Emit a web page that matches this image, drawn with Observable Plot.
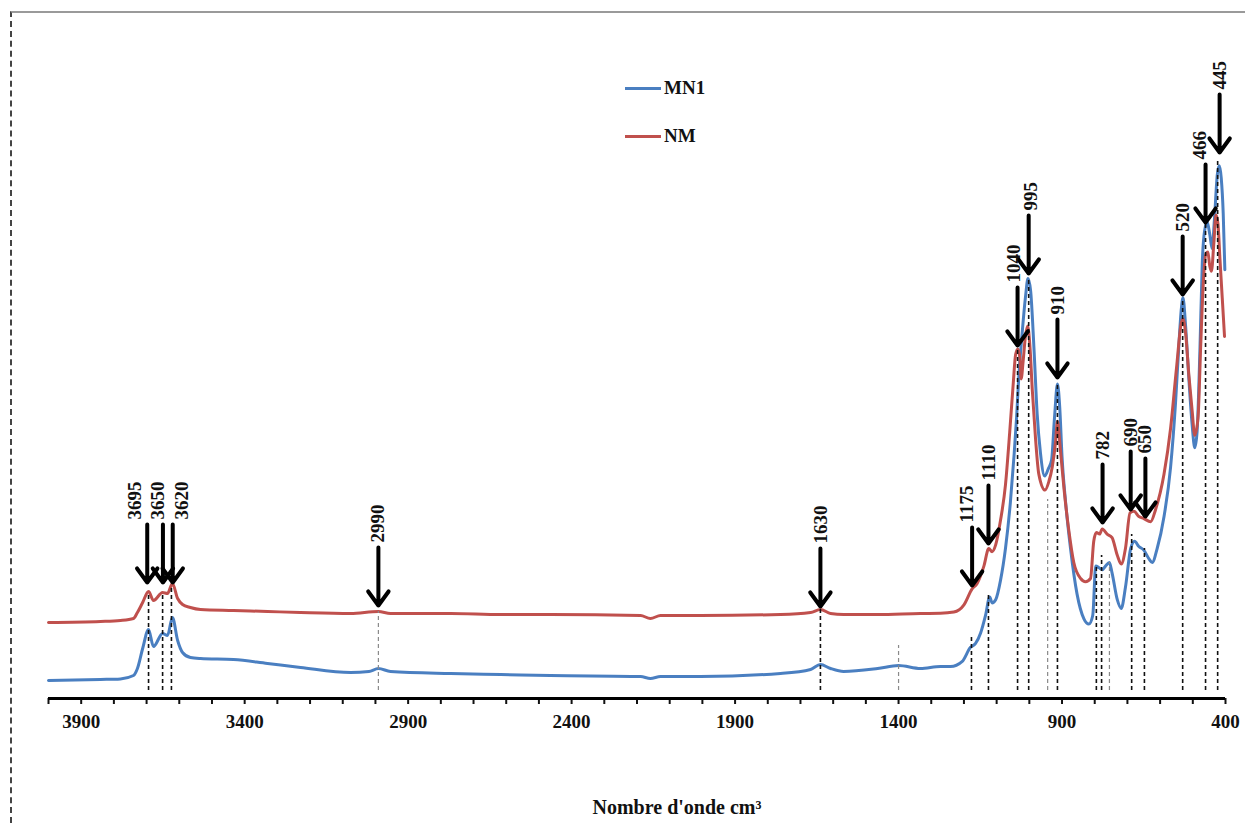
<!DOCTYPE html>
<html>
<head>
<meta charset="utf-8">
<script src="https://cdn.jsdelivr.net/npm/d3@7"></script>
<script src="https://cdn.jsdelivr.net/npm/@observablehq/plot@0.6"></script>
<style>
  html, body { margin: 0; padding: 0; background: #fff; }
  #wrap { position: relative; width: 1245px; height: 823px; overflow: hidden; }
  #frame { position: absolute; left: 10px; top: 11px; width: 1240px; height: 820px;
           border-top: 2px solid #9a9a9a; border-left: 2px dashed #444; }
  #chart { position: absolute; left: 0; top: 0; }
  .leg { position: absolute; left: 625px; font: bold 19px "Liberation Serif", "Times New Roman", serif;
         color: #111; display: flex; align-items: center; }
  .leg span.sw { display: inline-block; width: 36px; height: 3px; margin-right: 3px; }
</style>
</head>
<body>
<div id="wrap">
  <div id="frame"></div>
  <div id="chart"></div>
  <div class="leg" style="top:77px"><span class="sw" style="background:#4a7fc1"></span>MN1</div>
  <div class="leg" style="top:125px"><span class="sw" style="background:#c0504d"></span>NM</div>
</div>
<script>
// ---- Data (wavenumber cm-1, absorbance a.u.) ----
const seriesNames = ["MN1", "NM"];

const mn1Wn  = [4000,3841,3780,3740,3728,3712,3694,3679,3651,3636,3621,3605,3590,3566,3535,3434,3330,3229,3076,3020,2991,2954,2770,2617,2465,2189,2159,2128,2006,1761,1669,1639,1608,1568,1464,1400,1333,1272,1241,1205,1180,1165,1149,1134,1121,1114,1103,1088,1073,1058,1047,1039,1032,1022,1012,1004,996,986,976,966,953,942,932,923,914,907,900,889,874,854,833,818,806,797,787,777,767,755,747,731,719,706,690,678,665,650,634,624,609,588,568,553,543,535,530,522,512,502,494,487,478,471,464,456,448,441,434,425,419,413,407,402];
const mn1Abs = [0.045,0.0475,0.049,0.0575,0.075,0.125,0.1725,0.13,0.1625,0.1575,0.2025,0.145,0.115,0.1025,0.10,0.0975,0.0875,0.0775,0.065,0.0675,0.075,0.0675,0.0625,0.06,0.0575,0.055,0.05,0.055,0.055,0.0625,0.0725,0.085,0.075,0.0675,0.075,0.0825,0.075,0.08,0.08,0.093,0.128,0.137,0.164,0.208,0.254,0.239,0.247,0.296,0.375,0.49,0.605,0.702,0.808,0.913,1.002,1.05,1.019,0.878,0.711,0.614,0.556,0.574,0.596,0.702,0.786,0.728,0.605,0.49,0.375,0.261,0.199,0.186,0.208,0.331,0.327,0.322,0.331,0.34,0.314,0.247,0.225,0.278,0.375,0.393,0.38,0.371,0.349,0.34,0.375,0.455,0.578,0.737,0.878,0.975,1.002,0.931,0.799,0.684,0.627,0.666,0.878,1.09,1.169,1.191,1.16,1.125,1.196,1.31,1.332,1.301,1.213,1.072];

const nmWn  = [4000,3841,3780,3740,3728,3712,3694,3679,3651,3636,3621,3605,3590,3566,3535,3434,3330,3229,3076,2991,2954,2770,2617,2465,2189,2159,2128,2006,1761,1669,1639,1608,1568,1464,1333,1272,1231,1200,1175,1160,1139,1124,1114,1103,1088,1073,1060,1049,1042,1035,1029,1025,1019,1012,1005,998,991,981,971,952,940,930,920,914,905,894,879,864,843,828,813,803,795,785,777,762,747,731,719,706,692,680,665,650,629,614,588,568,550,535,530,522,512,502,494,484,476,468,460,454,448,443,436,429,423,417,410,403];
const nmAbs = [0.19,0.1925,0.195,0.20,0.215,0.24,0.2675,0.245,0.265,0.2625,0.2875,0.25,0.235,0.2275,0.2225,0.22,0.2175,0.215,0.2125,0.2175,0.2125,0.2125,0.21,0.21,0.2075,0.2,0.2075,0.2075,0.21,0.215,0.2225,0.2125,0.21,0.21,0.2125,0.213,0.216,0.234,0.274,0.287,0.331,0.375,0.367,0.384,0.446,0.534,0.666,0.79,0.86,0.874,0.852,0.799,0.843,0.905,0.931,0.878,0.772,0.649,0.561,0.521,0.543,0.578,0.64,0.693,0.622,0.525,0.419,0.34,0.30,0.292,0.30,0.393,0.415,0.411,0.424,0.411,0.402,0.358,0.336,0.375,0.464,0.468,0.455,0.45,0.442,0.472,0.561,0.675,0.825,0.94,0.949,0.913,0.808,0.719,0.658,0.702,0.878,1.037,1.112,1.116,1.081,1.068,1.134,1.209,1.187,1.099,1.002,0.905];

// Peak annotations: label, arrow position (cm-1), arrow tip (a.u.)
const peakLabels = ["3695","3650","3620","2990","1630","1175","1110","1040","995","910","782","690","650","520","466","445"];
const peakWn     = [3698,3650,3620,2991,1639,1175,1125,1036,1002,914,776,690,645,531,461,418];
const peakTip    = [0.29,0.29,0.29,0.2325,0.23,0.2825,0.3875,0.8825,1.0625,0.8025,0.44,0.4725,0.455,1.01,1.19,1.365];

// Dashed drop lines: position (cm-1), top (a.u.)
const dropWn  = [3694,3651,3624,2991,1639,1400,1177,1125,1036,1002,944,914,795,779,755,687,648,531,461,424];
const dropTop = [0.2625,0.265,0.28,0.2175,0.225,0.1325,0.1575,0.2575,0.875,1.05,0.4975,0.7875,0.3275,0.3575,0.34,0.41,0.375,1.0,1.19,1.345];
const dropBottom = 0.02;
const faintDrops = [2991,1400,944,755];

const xTickLabels = [3900,3400,2900,2400,1900,1400,900,400];
const xTitle = "Nombre d'onde cm³";

// ---- Build tables ----
const mn1 = mn1Wn.map((w, i) => ({wn: w, a: mn1Abs[i], s: seriesNames[0]}));
const nm  = nmWn.map((w, i) => ({wn: w, a: nmAbs[i], s: seriesNames[1]}));
const peaks = peakLabels.map((l, i) => ({label: l, wn: peakWn[i], tip: peakTip[i]}));
const drops = dropWn.map((w, i) => ({wn: w, top: dropTop[i], bottom: dropBottom}));

const SHAFT = 0.145;   // arrow length in a.u.
const labelDx = {"3695": -12, "3650": -5, "3620": 9, "1175": -5, "1040": -4, "466": -6, "995": 2};
const serif = "'Liberation Serif', 'Times New Roman', serif";

const labelMarks = peaks.map(p => Plot.text([p], {
  x: "wn", y: d => d.tip + SHAFT, text: "label", rotate: -90,
  textAnchor: "start", lineAnchor: "middle", dy: -5, dx: labelDx[p.label] || 0,
  fontSize: 19, fontWeight: "bold", fill: "#111"
}));

const chart = Plot.plot({
  width: 1245,
  height: 823,
  marginLeft: 48,
  marginRight: 20,
  marginTop: 18,
  marginBottom: 125,
  x: {domain: [4000, 400], axis: null},
  y: {domain: [0, 1.7], axis: null},
  style: {background: "transparent", fontFamily: serif, color: "#111"},
  marks: [
    Plot.line(mn1, {x: "wn", y: "a", stroke: "#4a7fc1", strokeWidth: 3, curve: "monotone-x"}),
    Plot.line(nm,  {x: "wn", y: "a", stroke: "#c0504d", strokeWidth: 3, curve: "monotone-x"}),
    Plot.ruleX(drops, {x: "wn", y1: "bottom", y2: "top",
      stroke: d => faintDrops.includes(d.wn) ? "#8a8a8a" : "#111",
      strokeWidth: d => faintDrops.includes(d.wn) ? 1.2 : 1.6,
      strokeDasharray: "4,3"}),
    Plot.arrow(peaks, {x1: "wn", x2: "wn", y1: d => d.tip + SHAFT, y2: "tip",
      stroke: "#000", strokeWidth: 4, headLength: 6.5, headAngle: 72}),
    ...labelMarks,
    Plot.axisX({ticks: d3.range(400, 4001, 100), tickSize: 6, tickPadding: 10,
      tickFormat: d => xTickLabels.includes(d) ? String(d) : "",
      fontSize: 19, fontWeight: "bold", strokeWidth: 2, label: null}),
    Plot.ruleY([0], {stroke: "#000", strokeWidth: 3}),
    Plot.text([xTitle], {frameAnchor: "bottom", dy: 115, dx: 40, fontSize: 20, fontWeight: "bold", fill: "#111"})
  ]
});
document.getElementById("chart").appendChild(chart);
</script>
</body>
</html>
